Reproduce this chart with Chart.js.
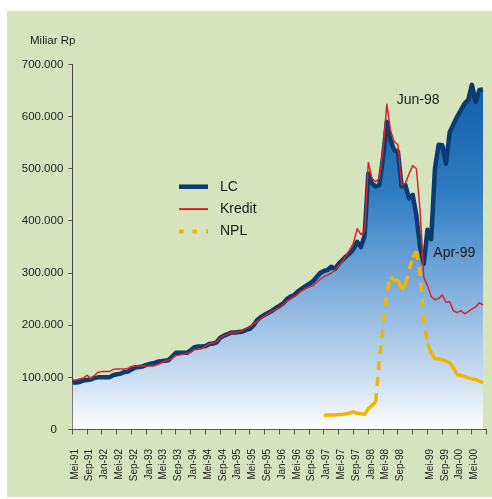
<!DOCTYPE html>
<html>
<head>
<meta charset="utf-8">
<script src="https://cdn.jsdelivr.net/npm/chart.js@4/dist/chart.umd.min.js"></script>
<style>
    html, body { margin: 0; padding: 0; background: #fff; }
    #wrap { position: absolute; left: 7px; top: 11px; width: 485px; height: 486px; background: #d6e4be; }
</style>
</head>
<body>
<div id="wrap"><canvas id="myChart"></canvas></div>
<script>
// values in thousands of Miliar Rp (700 -> "700.000"), monthly from Mei-91
const monthNames = ['Jan', 'Feb', 'Mar', 'Apr', 'Mei', 'Jun', 'Jul', 'Agu', 'Sep', 'Okt', 'Nov', 'Des']
const startYear = 1991, startMonth = 4, monthCount = 113
const months = []
for (let i = 0; i < monthCount; i++) {
    const m = startMonth + i
    months.push(monthNames[m % 12] + '-' + String((startYear + Math.floor(m / 12)) % 100).padStart(2, '0'))
}
const xTicks = [0, 4, 8, 12, 16, 20, 24, 28, 32, 36, 40, 44, 48, 52, 56, 60, 64, 68, 72, 76, 80, 84, 88, 92, 96, 100, 104, 108, 112]
const hiddenLabels = ['Jan-99', 'Sep-00']
const yTicks = [0, 100, 200, 300, 400, 500, 600, 700]

const lc = [
    90, 90, 91, 94, 95, 96, 99, 100, 100, 100,
    100, 104, 106, 107, 110, 111, 115, 119, 120, 121,
    124, 126, 127, 130, 131, 132, 133, 140, 147, 147,
    147, 147, 152, 158, 159, 159, 160, 164, 165, 167,
    176, 180, 183, 186, 186, 187, 188, 191, 193, 200,
    210, 216, 220, 224, 228, 233, 237, 242, 250, 255,
    258, 265, 270, 275, 279, 284, 292, 300, 304, 306,
    312, 308, 318, 325, 332, 338, 346, 360, 350, 372,
    491, 472, 466, 469, 523, 590, 555, 536, 533, 466,
    469, 443, 450, 410, 350, 318, 383, 365, 500, 546,
    545, 510, 570, 585, 600, 612, 625, 632, 661, 628, 651, 652
]
const kredit = [
    95, 95, 97, 99, 104, 98, 104, 110, 111, 111,
    111, 115, 116, 116, 116, 117, 121, 122, 122, 122,
    122, 122, 122, 124, 128, 131, 133, 137, 142, 143,
    145, 146, 148, 153, 154, 155, 160, 164, 166, 168,
    175, 180, 183, 186, 186, 188, 190, 194, 198, 202,
    208, 213, 218, 223, 227, 230, 233, 240, 246, 250,
    255, 260, 266, 270, 273, 276, 282, 288, 293, 296,
    300, 306, 314, 322, 334, 345, 358, 385, 374, 380,
    512, 482, 475, 482, 536, 624, 574, 552, 546, 469,
    472, 490, 506, 500, 420, 292, 276, 255, 249, 251,
    258, 244, 245, 228, 224, 228, 222, 226, 231, 235, 243, 239
]
// NPL starts Jan-97
const nplStart = 68
const npl = [
    27, 28, 28, 28, 29, 29, 30, 32, 34, 31,
    30, 29, 40, 46, 53, 135, 195, 262, 293, 285,
    287, 268, 278, 305, 330, 342, 300, 210, 165, 148,
    136, 135, 134, 131, 128, 118, 105, 104, 102, 99,
    97, 96, 93, 89
]

const fontFamily = '"Liberation Sans", Arial, sans-serif'

function main() {
    buildChart("myChart")
}

// functions
function toPoints(values, start) {
    return values.map((v, i) => ({ x: start + i, y: v }))
}

function lcFill(context) {
    const chart = context.chart
    const area = chart.chartArea
    if (!area) return null
    const g = chart.ctx.createLinearGradient(0, area.top, 0, area.bottom)
    g.addColorStop(0, '#0d5aa6')
    g.addColorStop(0.35, '#2f7cc2')
    g.addColorStop(0.6, '#7aabdb')
    g.addColorStop(0.85, '#c8dcf0')
    g.addColorStop(1, '#ffffff')
    return g
}

const legendItems = [
    { label: 'LC', color: '#0b3b70', width: 4.5, dash: [] },
    { label: 'Kredit', color: '#d8232a', width: 2, dash: [] },
    { label: 'NPL', color: '#f6b400', width: 4, dash: [4.5, 9] }
]

const textPlugin = {
    id: 'texts',
    afterDraw(chart) {
        const c = chart.ctx
        const x = chart.scales.x
        const y = chart.scales.y
        c.save()
        c.fillStyle = '#1a1a1a'
        c.textBaseline = 'middle'
        c.textAlign = 'left'
        c.font = '11.5px ' + fontFamily
        c.fillText('Miliar Rp', 23, 29.5)

        c.font = '14px ' + fontFamily
        c.fillText('Jun-98', x.getPixelForValue(85) + 10, y.getPixelForValue(lc[85]) - 22)
        c.fillText('Apr-99', x.getPixelForValue(95) + 9.5, y.getPixelForValue(lc[95]) - 11)

        // legend
        legendItems.forEach((item, k) => {
            const ly = 175.7 + k * 22.4
            c.beginPath()
            c.strokeStyle = item.color
            c.lineWidth = item.width
            c.setLineDash(item.dash)
            c.moveTo(172, ly)
            c.lineTo(201, ly)
            c.stroke()
            c.setLineDash([])
            c.fillText(item.label, 213, ly)
        })
        c.restore()
    }
}

function buildChart(canvasId) {
    const ctx = document.getElementById(canvasId)

    new Chart(ctx, {
        type: 'line',
        data: {
            datasets: [
                {
                    label: 'NPL',
                    data: toPoints(npl, nplStart),
                    borderColor: '#f6b400',
                    borderWidth: 3.5,
                    borderDash: [9, 7],
                    segment: {
                        borderDash: c => Math.abs(c.p1.y - c.p0.y) > 9 ? undefined : []
                    },
                    fill: false,
                    order: 1
                },
                {
                    label: 'Kredit',
                    data: toPoints(kredit, 0),
                    borderColor: '#d8232a',
                    borderWidth: 1.5,
                    fill: false,
                    order: 2
                },
                {
                    label: 'LC',
                    data: toPoints(lc, 0),
                    borderColor: '#0b3b70',
                    borderWidth: 4.5,
                    backgroundColor: lcFill,
                    fill: 'origin',
                    order: 3
                }
            ]
        },
        options: {
            responsive: true,
            maintainAspectRatio: false,
            animation: false,
            elements: {
                point: { radius: 0 },
                line: { tension: 0, borderJoinStyle: 'round' }
            },
            layout: { padding: { top: 53.5, right: 5.3, left: 0, bottom: 0 } },
            plugins: {
                legend: { display: false },
                tooltip: { enabled: false }
            },
            scales: {
                x: {
                    type: 'linear',
                    min: 0,
                    max: 112,
                    afterBuildTicks: s => { s.ticks = xTicks.map(v => ({ value: v })) },
                    afterFit: s => { s.height = 67.5; s.paddingLeft = 0; s.paddingRight = 0 },
                    ticks: {
                        autoSkip: false,
                        minRotation: 90,
                        maxRotation: 90,
                        padding: 14.5,
                        labelOffset: 2.5,
                        color: '#222',
                        font: { family: fontFamily, size: 10 },
                        callback: v => hiddenLabels.includes(months[v]) ? '' : months[v]
                    },
                    grid: { drawOnChartArea: false, tickLength: 5, color: '#555' },
                    border: { color: '#444' }
                },
                y: {
                    min: 0,
                    max: 700,
                    afterBuildTicks: s => { s.ticks = yTicks.map(v => ({ value: v })) },
                    afterFit: s => { s.width = 65.3 },
                    ticks: {
                        padding: 5,
                        color: '#222',
                        font: { family: fontFamily, size: 11.5 },
                        callback: v => v === 0 ? '0  ' : v + '.000'
                    },
                    grid: { drawOnChartArea: false, tickLength: 4, color: '#555' },
                    border: { color: '#444' }
                }
            }
        },
        plugins: [textPlugin]
    })
}

// listeners
document.addEventListener("DOMContentLoaded", main)
</script>
</body>
</html>
